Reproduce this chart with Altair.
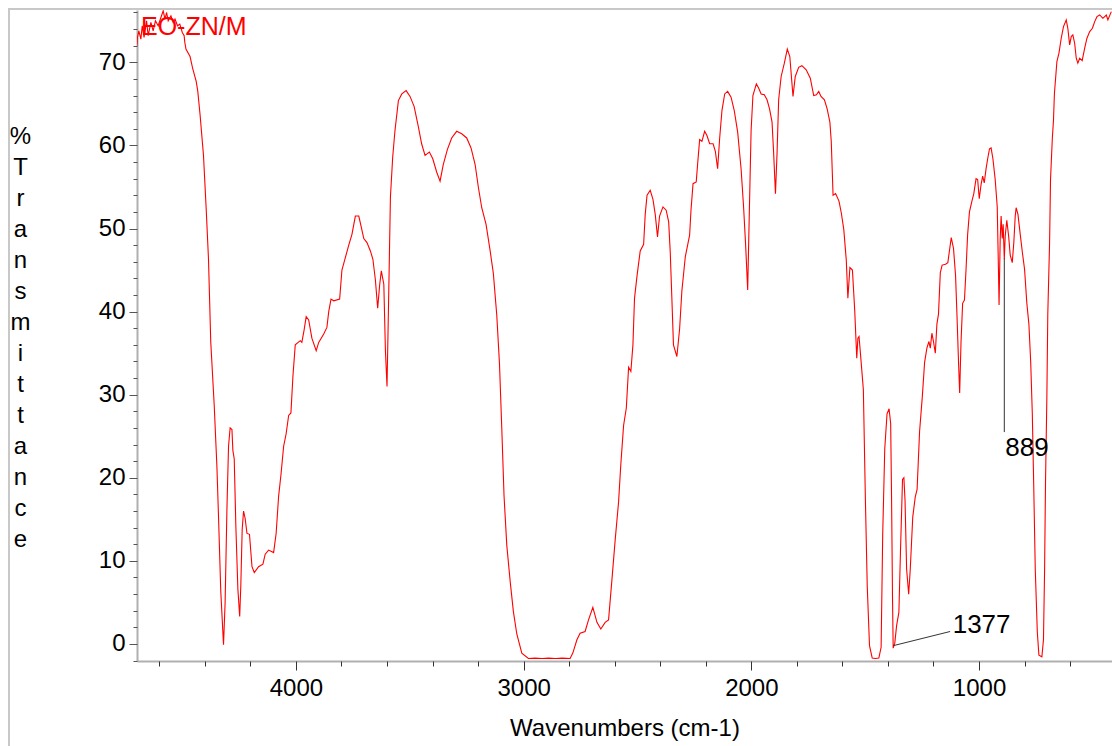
import altair as alt
import pandas as pd

# Spectrum: wavenumber (cm-1) and %T
wavenumber = [
    4698, 4696, 4690, 4681, 4675, 4667, 4656, 4649, 4637, 4627, 4617, 4605, 4593, 4583, 4575,
    4568, 4561, 4549, 4539, 4531, 4520, 4510, 4499, 4491, 4488, 4483, 4465, 4453, 4438, 4431,
    4421, 4406, 4394, 4384, 4374, 4359, 4347, 4340, 4330, 4318, 4311, 4303, 4296, 4289, 4281,
    4277, 4271, 4264, 4255, 4247, 4242, 4236, 4230, 4223, 4215, 4204, 4193, 4183, 4164, 4145,
    4135, 4120, 4098, 4087, 4076, 4066, 4054, 4043, 4032, 4022, 4013, 4003, 3981, 3974, 3964,
    3955, 3944, 3930, 3911, 3900, 3878, 3864, 3856, 3846, 3834, 3808, 3798, 3783, 3768, 3754,
    3739, 3724, 3714, 3702, 3688, 3673, 3662, 3651, 3641, 3632, 3625, 3614, 3607, 3600, 3593,
    3585, 3575, 3565, 3550, 3535, 3516, 3499, 3481, 3462, 3448, 3433, 3414, 3399, 3382, 3367,
    3353, 3335, 3316, 3294, 3272, 3250, 3231, 3213, 3199, 3184, 3165, 3147, 3133, 3118, 3106,
    3096, 3086, 3074, 3059, 3045, 3030, 3008, 2979, 2950, 2920, 2890, 2860, 2830, 2796, 2784,
    2766, 2752, 2730, 2715, 2696, 2678, 2661, 2642, 2627, 2612, 2598, 2583, 2573, 2561, 2549,
    2539, 2529, 2520, 2513, 2502, 2488, 2473, 2466, 2458, 2444, 2432, 2422, 2412, 2403, 2388,
    2374, 2363, 2356, 2349, 2342, 2327, 2315, 2305, 2290, 2271, 2265, 2256, 2242, 2236, 2227,
    2217, 2205, 2195, 2183, 2168, 2158, 2148, 2139, 2129, 2117, 2104, 2089, 2075, 2060, 2045,
    2034, 2025, 2016, 2009, 2001, 1993, 1978, 1968, 1957, 1943, 1931, 1920, 1909, 1902, 1894,
    1887, 1880, 1869, 1855, 1842, 1831, 1817, 1807, 1792, 1778, 1759, 1741, 1726, 1714, 1704,
    1694, 1679, 1667, 1655, 1649, 1641, 1630, 1615, 1605, 1594, 1583, 1576, 1567, 1556, 1546,
    1537, 1532, 1527, 1520, 1508, 1499, 1491, 1481, 1469, 1455, 1440, 1430, 1423, 1414, 1404,
    1395, 1388, 1384, 1380, 1377, 1370, 1362, 1352, 1345, 1336, 1330, 1325, 1318, 1309, 1302,
    1291, 1280, 1272, 1261, 1249, 1239, 1229, 1220, 1214, 1207, 1200, 1192, 1185, 1178, 1170,
    1162, 1147, 1137, 1122, 1112, 1103, 1097, 1090, 1085, 1079, 1072, 1064, 1057, 1050, 1042,
    1032, 1023, 1013, 1006, 999, 991, 984, 977, 969, 962, 954, 947, 939, 929, 920,
    915, 912, 907, 903, 898, 894, 889, 885, 878, 870, 863, 854, 847, 841, 837,
    829, 819, 810, 800, 790, 781, 773, 766, 760, 753, 744, 737, 724, 717, 712,
    708, 702, 698, 690, 686, 678, 673, 669, 658, 649, 639, 629, 617, 610, 602,
    595, 588, 580, 573, 566, 558, 547, 536, 526, 514, 502, 492, 482, 470, 456,
    441, 434, 419,
]
transmittance = [
    72.0, 73.0, 73.8, 72.8, 74.4, 73.0, 75.0, 73.2, 74.8, 73.8, 75.0, 74.4, 75.4, 76.2, 75.2,
    76.0, 75.0, 75.6, 74.8, 75.2, 74.4, 74.6, 73.6, 73.2, 72.4, 71.6, 70.7, 69.2, 67.7, 66.5,
    63.7, 58.8, 52.3, 46.3, 36.3, 28.8, 21.3, 15.3, 6.3, -0.1, 5.0, 16.3, 23.8, 26.0, 25.8,
    23.3, 22.3, 14.3, 6.6, 3.3, 7.1, 13.8, 16.0, 15.1, 13.3, 13.2, 9.3, 8.6, 9.3, 9.6,
    10.8, 11.3, 11.0, 13.3, 17.8, 20.3, 23.8, 25.3, 27.5, 27.8, 32.3, 36.0, 36.5, 36.3, 37.8,
    39.4, 39.0, 36.8, 35.3, 36.3, 37.3, 38.1, 40.0, 41.5, 41.3, 41.5, 45.0, 46.5, 48.0, 49.3,
    51.5, 51.5, 50.3, 48.8, 48.3, 47.3, 46.3, 43.8, 40.4, 43.3, 44.9, 43.3, 35.3, 31.0, 41.3,
    53.8, 58.6, 61.8, 65.4, 66.2, 66.6, 65.9, 64.7, 62.2, 60.2, 58.8, 59.2, 58.4, 56.8, 55.7,
    57.7, 59.5, 60.9, 61.7, 61.4, 60.9, 59.7, 57.7, 55.0, 52.5, 50.5, 47.3, 44.6, 39.6, 33.7,
    26.0, 17.8, 11.9, 7.5, 3.9, 1.2, -1.1, -1.75, -1.7, -1.75, -1.7, -1.75, -1.7, -1.75, -1.1,
    0.5, 1.3, 1.5, 2.9, 4.4, 2.6, 1.8, 2.6, 2.9, 7.8, 12.5, 17.1, 21.7, 26.3, 28.4,
    33.3, 32.8, 36.0, 41.6, 44.3, 47.3, 48.1, 51.7, 54.0, 54.6, 53.5, 51.7, 49.0, 51.5, 52.6,
    52.2, 50.8, 47.1, 41.6, 36.0, 34.6, 37.9, 42.5, 46.6, 49.2, 52.2, 55.4, 55.6, 57.7, 60.7,
    60.5, 61.7, 61.2, 60.2, 60.2, 59.3, 57.2, 60.9, 64.2, 66.2, 66.5, 65.8, 64.2, 61.6, 57.2,
    52.6, 48.0, 42.6, 51.7, 61.8, 66.0, 67.4, 66.9, 66.2, 66.1, 65.5, 64.4, 62.8, 59.1, 54.2,
    59.1, 65.5, 68.3, 69.9, 71.6, 70.7, 65.9, 68.3, 69.4, 69.6, 69.1, 68.1, 66.0, 66.1, 66.5,
    65.9, 65.5, 64.4, 62.8, 60.5, 54.0, 54.2, 53.3, 51.9, 49.9, 46.2, 41.6, 45.3, 45.0, 40.2,
    34.4, 36.8, 37.0, 34.7, 30.6, 17.3, 7.0, -0.2, -1.7, -1.75, -1.7, -0.4, 13.2, 23.5, 27.7,
    28.3, 26.5, 17.3, 5.7, -0.5, 0.1, 2.2, 3.8, 11.1, 19.8, 20.0, 17.3, 9.0, 6.0, 9.0,
    15.3, 17.7, 18.6, 25.6, 29.8, 33.9, 35.6, 36.4, 35.6, 37.4, 36.4, 35.0, 38.5, 39.7, 44.7,
    45.6, 45.7, 45.9, 48.9, 47.6, 44.3, 39.7, 33.9, 30.2, 36.4, 41.0, 41.4, 45.1, 49.3, 52.0,
    53.2, 54.2, 56.0, 55.9, 53.6, 55.3, 56.3, 55.5, 57.2, 58.4, 59.6, 59.7, 58.4, 55.9, 52.6,
    45.5, 40.8, 48.8, 51.5, 48.8, 50.5, 46.3, 49.1, 51.0, 49.1, 46.8, 45.9, 48.4, 51.5, 52.5,
    51.7, 49.3, 47.2, 45.1, 41.0, 38.5, 33.9, 27.7, 19.4, 9.0, 1.4, -1.35, -1.55, 0.5, 9.0,
    19.4, 29.8, 39.7, 48.4, 55.9, 60.9, 63.0, 66.2, 70.1, 71.1, 72.9, 74.3, 75.1, 74.1, 72.1,
    73.1, 73.3, 72.3, 70.5, 69.9, 70.5, 70.2, 71.7, 72.9, 73.7, 74.1, 74.9, 75.5, 75.7, 75.3,
    75.7, 75.1, 76.1,
]

# Peak annotations
ann_labels = ["889", "1377"]
ann_peak_wn = [889, 1376]
ann_peak_t = [46.4, -0.2]
ann_end_wn = [889, 1127]
ann_end_t = [25.5, 1.5]
ann_text_wn = [889, 1120]
ann_text_t = [22.6, 1.3]

sample_name = ["EO-ZN/M"]
x_major = [1000, 2000, 3000, 4000]
x_minor = list(range(600, 4601, 200))
y_major = [0, 10, 20, 30, 40, 50, 60, 70]
y_minor = list(range(-2, 77, 2))
y_title = list("%Transmittance")

FONT = "Liberation Sans"
spec = pd.DataFrame({"wn": wavenumber, "t": transmittance})
ann = pd.DataFrame({
    "label": ann_labels, "wn": ann_peak_wn, "t": ann_peak_t,
    "wn2": ann_end_wn, "t2": ann_end_t, "twn": ann_text_wn, "tt": ann_text_t,
})

xscale = alt.Scale(domain=[416, 4698], reverse=True, nice=False, zero=False)
yscale = alt.Scale(domain=[-2.05, 76.3], nice=False, zero=False)

main_line = alt.Chart(spec).mark_line(color="#ff0000", strokeWidth=1.1, clip=True).encode(
    x=alt.X("wn:Q", scale=xscale, axis=alt.Axis(
        orient="bottom", values=x_major, format="d", tickSize=9, tickColor="#333333",
        tickWidth=1, domainColor="#b0b0b0", domainWidth=2, grid=False,
        labelFont=FONT, labelFontSize=24, labelColor="#000000", labelPadding=6,
        title="Wavenumbers (cm-1)", titleFont=FONT, titleFontSize=24,
        titleFontWeight="normal", titleColor="#000000", titlePadding=16)),
    y=alt.Y("t:Q", scale=yscale, axis=alt.Axis(
        orient="left", values=y_major, format="d", tickSize=8, tickColor="#555555",
        tickWidth=1, domainColor="#b0b0b0", domainWidth=2, grid=False,
        labelFont=FONT, labelFontSize=24, labelColor="#000000", labelPadding=4,
        title=y_title, titleAngle=0, titleAlign="center", titleBaseline="top",
        titleX=-117, titleY=114, titleFont=FONT, titleFontSize=24,
        titleFontWeight="normal", titleColor="#000000", titleLineHeight=31)),
)

leaders = alt.Chart(ann).mark_rule(color="#333333", strokeWidth=1).encode(
    x=alt.X("wn:Q", scale=xscale, axis=alt.Axis(
        orient="bottom", values=x_minor, tickSize=5, tickColor="#333333", labels=False,
        domain=False, grid=False, title=None)),
    x2="wn2:Q",
    y=alt.Y("t:Q", scale=yscale, axis=alt.Axis(
        orient="left", values=y_minor, tickSize=4, tickColor="#555555", labels=False,
        domain=False, grid=False, title=None)),
    y2="t2:Q",
)

ann_text = alt.Chart(ann).mark_text(
    align="left", baseline="alphabetic", font=FONT, fontSize=26, color="#000000", dx=1
).encode(
    x=alt.X("twn:Q", scale=xscale, axis=None),
    y=alt.Y("tt:Q", scale=yscale, axis=None),
    text="label:N",
)

name_text = alt.Chart(pd.DataFrame({"name": sample_name})).mark_text(
    align="left", baseline="alphabetic", font=FONT, fontSize=25, color="#ff0000"
).encode(x=alt.value(4), y=alt.value(25), text="name:N")

frame = alt.Chart(pd.DataFrame({"k": [0]})).mark_rect(
    fill=None, stroke="#c8c8c8", strokeWidth=2, clip=False
).encode(x=alt.value(-128), x2=alt.value(1000), y=alt.value(-1), y2=alt.value(760))

chart = alt.layer(frame, main_line, leaders, ann_text, name_text).resolve_axis(
    x="independent", y="independent"
).properties(
    width=975, height=651,
    padding={"left": 137, "top": 10, "right": 0, "bottom": 85},
    autosize=alt.AutoSizeParams(type="none"),
    background="#ffffff",
).configure_view(stroke=None)

chart.save("out.html", embed_options={"renderer": "svg", "actions": False})
